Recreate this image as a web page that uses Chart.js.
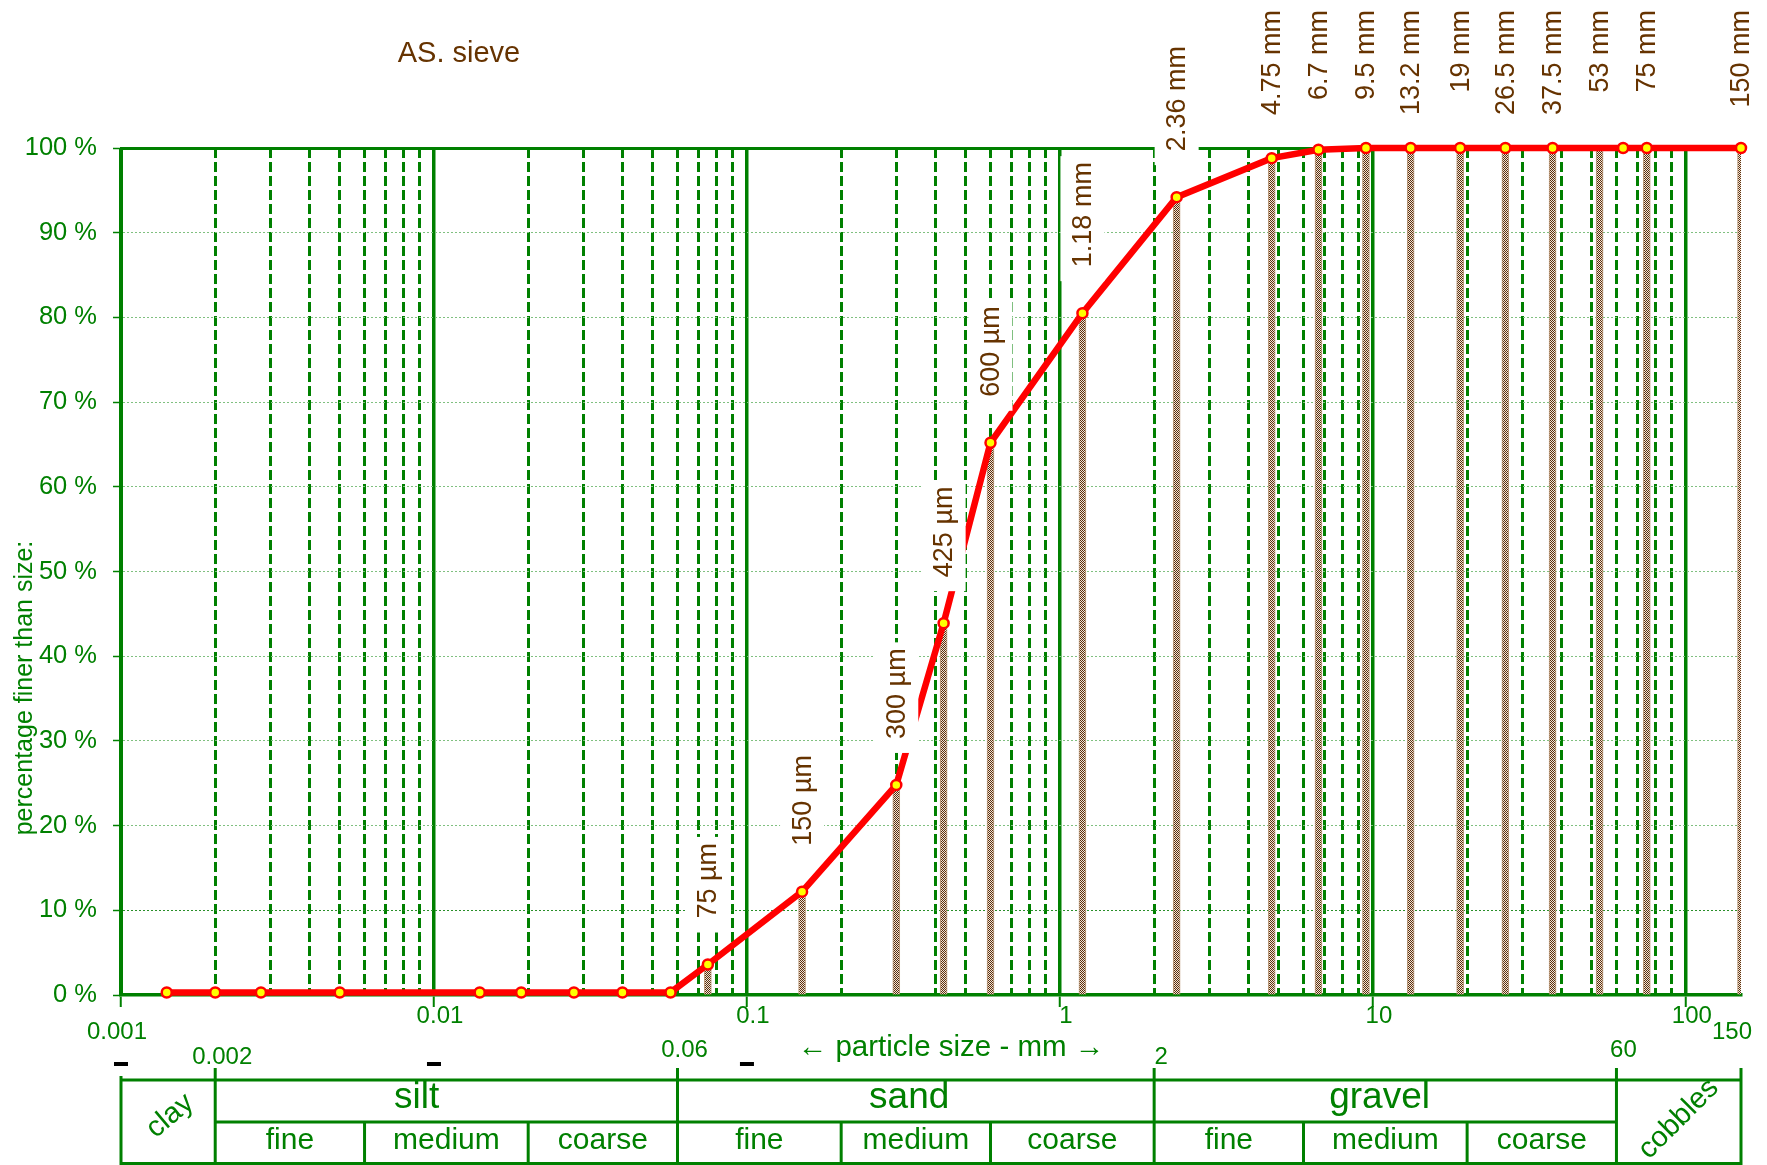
<!DOCTYPE html>
<html>
<head>
<meta charset="utf-8">
<script src="https://cdn.jsdelivr.net/npm/chart.js@4.4.0/dist/chart.umd.min.js"></script>
<style>
  body { margin: 0; background: #fff; }
  canvas { display: block; }
</style>
</head>
<body>
<canvas id="grading" width="1767" height="1165"></canvas>
<script>
// AS sieves (mm) and percentage passing each one
const sieveSizes   = [0.075, 0.15, 0.3, 0.425, 0.6, 1.18, 2.36, 4.75, 6.7, 9.5, 13.2, 19, 26.5, 37.5, 53, 75, 150];
const sieveNames   = ['75 µm', '150 µm', '300 µm', '425 µm', '600 µm', '1.18 mm', '2.36 mm', '4.75 mm', '6.7 mm', '9.5 mm', '13.2 mm', '19 mm', '26.5 mm', '37.5 mm', '53 mm', '75 mm', '150 mm'];
const sievePassing = [3.6, 12.2, 24.8, 43.9, 65.2, 80.5, 94.2, 98.8, 99.8, 100, 100, 100, 100, 100, 100, 100, 100];

// grading curve points
const curveSizes   = [0.0014, 0.002, 0.0028, 0.005, 0.014, 0.019, 0.028, 0.04, 0.057, 0.075, 0.15, 0.3, 0.425, 0.6, 1.18, 2.36, 4.75, 6.7, 9.5, 13.2, 19, 26.5, 37.5, 63, 75, 150];
const curvePassing = [0.3, 0.3, 0.3, 0.3, 0.3, 0.3, 0.3, 0.3, 0.3, 3.6, 12.2, 24.8, 43.9, 65.2, 80.5, 94.2, 98.8, 99.8, 100, 100, 100, 100, 100, 100, 100, 100];

const yTicks      = [0, 10, 20, 30, 40, 50, 60, 70, 80, 90, 100];
const xTickValues = [0.001, 0.01, 0.1, 1, 10, 100, 150];
const xTickLabels = ['0.001', '0.01', '0.1', '1', '10', '100', '150'];

// soil classes
const bandEdges      = [0.002, 0.06, 2, 60];
const bandEdgeLabels = ['0.002', '0.06', '2', '60'];
const bandNames      = ['silt', 'sand', 'gravel'];
const subEdges       = [0.006, 0.02, 0.2, 0.6, 6, 20];
const subNames       = ['fine', 'medium', 'coarse', 'fine', 'medium', 'coarse', 'fine', 'medium', 'coarse'];
const subRanges      = [[0.002, 0.006], [0.006, 0.02], [0.02, 0.06], [0.06, 0.2], [0.2, 0.6], [0.6, 2], [2, 6], [6, 20], [20, 60]];

const GREEN = '#008000';
const BROWN = '#663300';
const FONT = '"Liberation Sans", Arial, sans-serif';
Chart.defaults.font.family = FONT;

// 1..9 x each decade, then 100
const gridValues = [];
for (let k = -3; k <= 1; k++) {
  for (let m = 1; m <= 9; m++) gridValues.push(Number((m * Math.pow(10, k)).toPrecision(3)));
}
gridValues.push(100);

const isDecade = v => v != null && Math.abs(Math.log10(v) - Math.round(Math.log10(v))) < 1e-9;

const canvas = document.getElementById('grading');
const ctx0 = canvas.getContext('2d');

function checker() {
  const c = document.createElement('canvas');
  c.width = 2; c.height = 2;
  const g = c.getContext('2d');
  g.fillStyle = '#eee4da';
  g.fillRect(0, 0, 2, 2);
  g.fillStyle = '#5e300c';
  g.fillRect(0, 0, 1, 1);
  g.fillRect(1, 1, 1, 1);
  return ctx0.createPattern(c, 'repeat');
}

function txt(ctx, s, x, y, size, color, align) {
  ctx.font = size + 'px ' + FONT;
  ctx.fillStyle = color;
  ctx.textAlign = align || 'center';
  ctx.textBaseline = 'middle';
  ctx.fillText(s, x, y);
}

function seg(ctx, x1, y1, x2, y2) {
  ctx.beginPath();
  ctx.moveTo(x1, y1);
  ctx.lineTo(x2, y2);
  ctx.stroke();
}

const decor = {
  id: 'decor',
  afterDatasetsDraw(chart) {
    const {ctx, chartArea, scales: {x, y}} = chart;
    ctx.save();
    ctx.font = '27px ' + FONT;
    sieveNames.forEach((name, i) => {
      const px = x.getPixelForValue(sieveSizes[i]);
      const py = y.getPixelForValue(sievePassing[i]);
      const w = ctx.measureText(name).width;
      let bottom = py - 46;
      // labels of sieves at the top of the chart hang from the page edge
      if (bottom - w < 10 || py - chartArea.top < 5) bottom = 10 + w;
      ctx.fillStyle = '#fff';
      ctx.fillRect(px - 22, bottom - w - 6, 44, w + 20);
      ctx.save();
      ctx.translate(px, bottom);
      ctx.rotate(-Math.PI / 2);
      txt(ctx, name, 0, 1, 27, BROWN, 'left');
      ctx.restore();
    });
    ctx.restore();
  },
  afterDraw(chart) {
    const {ctx, scales: {x, y}} = chart;
    const X = v => x.getPixelForValue(v);
    const base = y.getPixelForValue(0);
    ctx.save();

    txt(ctx, 'AS. sieve', 459, 54, 29, BROWN);

    ctx.save();
    ctx.translate(25, 688);
    ctx.rotate(-Math.PI / 2);
    txt(ctx, 'percentage finer than size:', 0, 0, 25, GREEN);
    ctx.restore();

    xTickValues.forEach((v, i) => {
      const first = i === 0, last = i === xTickValues.length - 1;
      const dx = first ? -4 : last ? -9 : 6;
      txt(ctx, xTickLabels[i], X(v) + dx, base + (first || last ? 37 : 21), 24, GREEN);
    });

    bandEdges.forEach((v, i) => {
      txt(ctx, bandEdgeLabels[i], X(v) + 7, i % 2 ? 1050 : 1057, 24, GREEN);
    });

    ctx.fillStyle = '#000';
    xTickValues.slice(0, 3).forEach(v => ctx.fillRect(X(v) - 7, 1062, 14, 4));

    txt(ctx, '\u2190 particle size - mm \u2192', 951, 1048, 29.5, GREEN);

    // classification table
    const left = X(0.001), right = X(150);
    ctx.strokeStyle = GREEN;
    ctx.lineWidth = 3;
    seg(ctx, left, 1080, right, 1080);
    seg(ctx, X(bandEdges[0]), 1122, X(bandEdges[3]), 1122);
    seg(ctx, left, 1163.5, right, 1163.5);
    seg(ctx, left, 1076, left, 1165);
    bandEdges.concat([150]).forEach(v => seg(ctx, X(v), 1068, X(v), 1165));
    subEdges.forEach(v => seg(ctx, X(v), 1122, X(v), 1165));

    const bandLabelAt = [0.0088, 0.33, 10.5];
    bandNames.forEach((n, i) => txt(ctx, n, X(bandLabelAt[i]), 1098, 37, GREEN));
    subNames.forEach((n, i) => {
      const c = (X(subRanges[i][0]) + X(subRanges[i][1])) / 2;
      txt(ctx, n, c, 1141, 30, GREEN);
    });

    ctx.save();
    ctx.translate((left + X(0.002)) / 2 + 2, 1116);
    ctx.rotate(-40 * Math.PI / 180);
    txt(ctx, 'clay', 0, 0, 29, GREEN);
    ctx.restore();

    ctx.save();
    ctx.translate((X(60) + right) / 2, 1119);
    ctx.rotate(-45 * Math.PI / 180);
    txt(ctx, 'cobbles', 0, 0, 29, GREEN);
    ctx.restore();

    ctx.restore();
  }
};

new Chart(canvas, {
  type: 'line',
  data: {
    datasets: [{
      type: 'line',
      label: 'passing',
      data: curveSizes.map((s, i) => ({x: s, y: curvePassing[i]})),
      borderColor: '#ff0000',
      borderWidth: 6.5,
      pointRadius: 5,
      pointBorderWidth: 2.5,
      pointBackgroundColor: '#ffff00',
      pointBorderColor: '#ff0000',
      tension: 0,
      clip: false,
      order: 1
    }, {
      type: 'bar',
      label: 'sieves',
      data: sieveSizes.map((s, i) => ({x: s, y: sievePassing[i]})),
      backgroundColor: checker(),
      borderColor: '#bb9a7a',
      borderWidth: 1,
      barThickness: 7,
      order: 2
    }]
  },
  options: {
    responsive: false,
    animation: false,
    devicePixelRatio: 1,
    layout: { padding: { top: 148, right: 26, bottom: 0, left: 0 } },
    plugins: {
      legend: { display: false },
      tooltip: { enabled: false },
      title: { display: false }
    },
    scales: {
      x: {
        type: 'logarithmic',
        min: 0.001,
        max: 150,
        offset: false,
        afterBuildTicks: s => { s.ticks = gridValues.map(v => ({value: v})); },
        afterFit: s => { s.height = 170; },
        ticks: { display: false },
        grid: {
          offset: false,
          color: GREEN,
          lineWidth: c => isDecade(c.tick && c.tick.value) ? 3.5 : 3,
          tickLength: 12,
          tickWidth: 2,
          tickColor: c => isDecade(c.tick && c.tick.value) ? GREEN : 'rgba(0,0,0,0)'
        },
        border: {
          display: true,
          color: GREEN,
          width: 3.5,
          dash: c => (c.tick && !isDecade(c.tick.value)) ? [10, 4] : []
        }
      },
      y: {
        min: 0,
        max: 100,
        afterBuildTicks: s => { s.ticks = yTicks.map(v => ({value: v})); },
        afterFit: s => { s.width = 121; },
        ticks: {
          color: GREEN,
          font: { size: 25.5 },
          padding: 16,
          callback: v => v + ' %'
        },
        grid: {
          color: c => {
            const v = c.tick && c.tick.value;
            return v === 100 ? GREEN : v === 10 ? '#2a8f2a' : '#80c080';
          },
          lineWidth: c => (c.tick && c.tick.value === 100) ? 3 : 1,
          tickLength: 8,
          tickWidth: 1.5,
          tickColor: GREEN
        },
        border: {
          color: GREEN,
          width: 3,
          dash: c => (c.tick && c.tick.value % 100) ? [2, 2] : []
        }
      }
    }
  },
  plugins: [decor]
});
</script>
</body>
</html>
